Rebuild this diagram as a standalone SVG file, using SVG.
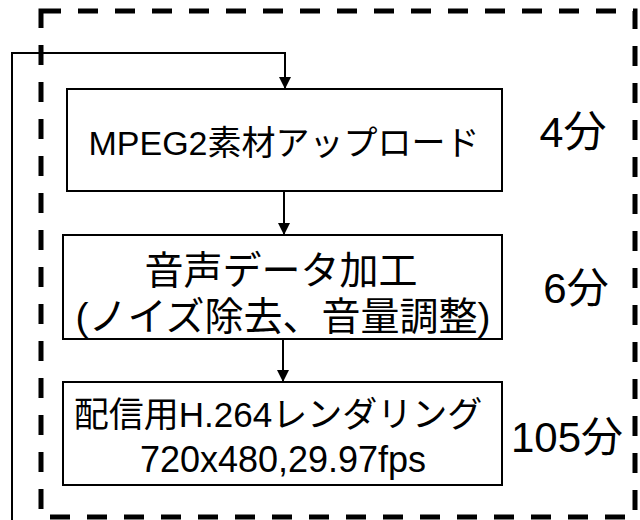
<svg xmlns="http://www.w3.org/2000/svg" width="640" height="520" viewBox="0 0 640 520">
<defs>
<style>
.box{fill:#fff;stroke:#000;stroke-width:2}
.t{font-family:"Liberation Sans","Noto Sans CJK JP",sans-serif;fill:#000;text-anchor:middle}
.c{fill:none;stroke:#000;stroke-width:2}
</style>
<marker id="ah" markerWidth="12" markerHeight="12" refX="12" refY="6" orient="auto" markerUnits="userSpaceOnUse">
<path d="M0,0 L12,6 L0,12 Z" fill="#000"/>
</marker>
</defs>
<rect x="41" y="11" width="594" height="506" fill="none" stroke="#000" stroke-width="5" stroke-dasharray="20 17"/>
<g id="n1">
<rect class="box" x="67" y="89" width="435" height="102"/>
<text class="t" x="284" y="155" font-size="34">MPEG2素材アップロード</text>
</g>
<g id="n2">
<rect class="box" x="63" y="235" width="439" height="104"/>
<text class="t" x="281" y="284" font-size="39">音声データ加工</text>
<text class="t" x="283" y="330" font-size="39">(ノイズ除去、音量調整)</text>
</g>
<g id="n3">
<rect class="box" x="63" y="382" width="439" height="103"/>
<text class="t" x="278" y="427" font-size="35">配信用H.264レンダリング</text>
<text class="t" x="283" y="472" font-size="36">720x480,29.97fps</text>
</g>
<g id="l1"><text class="t" x="573" y="147" font-size="43">4分</text></g>
<g id="l2"><text class="t" x="576" y="303" font-size="42">6分</text></g>
<g id="l3"><text class="t" x="567" y="452" font-size="42">105分</text></g>
<g id="connectors">
<path class="c" d="M12,520 V53 H285 V89" marker-end="url(#ah)"/>
<path class="c" d="M284,191 V235" marker-end="url(#ah)"/>
<path class="c" d="M283,339 V382" marker-end="url(#ah)"/>
</g>
</svg>
